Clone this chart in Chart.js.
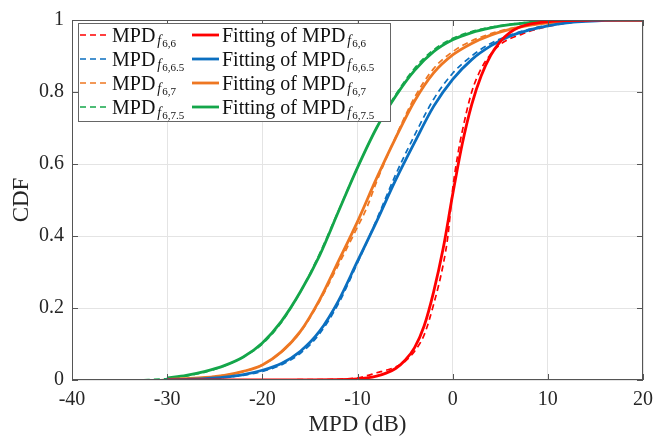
<!DOCTYPE html>
<html>
<head>
<meta charset="utf-8">
<script src="https://cdn.jsdelivr.net/npm/chart.js@4.4.1/dist/chart.umd.min.js"></script>
<style>
  html, body { margin: 0; padding: 0; background: #fff; }
  #wrap { position: relative; width: 668px; height: 439px; }
</style>
</head>
<body>
<div id="wrap"><canvas id="cdf" width="668" height="439"></canvas></div>
<script>
// ---------------------------------------------------------------------------
// Data
// ---------------------------------------------------------------------------

const xTicks = [-40, -30, -20, -10, 0, 10, 20];
const yTicks = [0, 0.2, 0.4, 0.6, 0.8, 1];
const xTickLabels = ['-40', '-30', '-20', '-10', '0', '10', '20'];
const yTickLabels = ['0', '0.2', '0.4', '0.6', '0.8', '1'];

const subscripts = ['6,6', '6,6.5', '6,7', '6,7.5'];
const colors = ['#ff0000', '#0b6fc0', '#ee7722', '#14a64a'];

// empirical MPD curves (dashed)
const xEmpRed    = [-30, -15, -12, -10, -9, -8, -7, -6, -5, -4, -3, -2, -1, -0.5, 0, 0.5, 1, 2, 3, 4, 5, 6, 7, 8, 10, 12, 14, 16, 20];
const empRed     = [0, 0.001, 0.002, 0.006, 0.012, 0.02, 0.027, 0.036, 0.052, 0.08, 0.125, 0.21, 0.32, 0.40, 0.53, 0.62, 0.69, 0.80, 0.865, 0.905, 0.932, 0.948, 0.958, 0.968, 0.982, 0.992, 0.997, 1, 1];
const xEmpBlue   = [-31.5, -30, -28, -26, -24, -22, -20, -18, -16, -14, -12, -10, -8, -6, -4, -2, 0, 2, 4, 6, 8, 10, 12, 14, 16, 20];
const empBlue    = [0, 0.001, 0.002, 0.004, 0.007, 0.013, 0.024, 0.042, 0.074, 0.128, 0.212, 0.325, 0.445, 0.57, 0.68, 0.78, 0.852, 0.90, 0.935, 0.958, 0.974, 0.985, 0.992, 0.997, 1, 1];
const xEmpOrange = [-31, -30, -28, -26, -24, -22, -20, -18, -16, -14, -12, -10, -9, -8, -6, -4, -2, 0, 2, 4, 6, 8, 10, 12, 14, 20];
const empOrange  = [0, 0.002, 0.004, 0.007, 0.013, 0.024, 0.042, 0.077, 0.133, 0.218, 0.32, 0.425, 0.48, 0.55, 0.675, 0.785, 0.865, 0.912, 0.942, 0.962, 0.976, 0.986, 0.993, 0.997, 1, 1];
const xEmpGreen  = [-33.5, -32, -30, -28, -26, -24, -22, -20, -18, -16, -14, -12, -10, -8, -6, -4, -2, 0, 2, 4, 6, 8, 10, 12, 14, 20];
const empGreen   = [0, 0.001, 0.004, 0.011, 0.022, 0.039, 0.064, 0.10, 0.16, 0.245, 0.35, 0.47, 0.59, 0.70, 0.792, 0.866, 0.917, 0.949, 0.968, 0.98, 0.988, 0.994, 0.997, 0.999, 1, 1];

// fitted curves (solid)
const xFit       = [-30, -28, -26, -24, -22, -20, -18, -16, -14, -12, -10, -8, -6, -4, -2, 0, 2, 4, 6, 8, 10, 12, 14, 16, 18, 20];
const fitBlue    = [0.001, 0.002, 0.004, 0.008, 0.015, 0.027, 0.046, 0.08, 0.135, 0.22, 0.33, 0.44, 0.555, 0.66, 0.76, 0.835, 0.89, 0.928, 0.955, 0.972, 0.984, 0.992, 0.996, 0.999, 1, 1];
const fitOrange  = [0.002, 0.004, 0.007, 0.013, 0.024, 0.042, 0.078, 0.135, 0.222, 0.33, 0.44, 0.56, 0.672, 0.775, 0.853, 0.903, 0.935, 0.958, 0.974, 0.985, 0.992, 0.996, 0.999, 1, 1, 1];
const fitGreen   = [0.006, 0.013, 0.024, 0.040, 0.064, 0.103, 0.163, 0.245, 0.345, 0.468, 0.59, 0.70, 0.788, 0.86, 0.912, 0.945, 0.965, 0.978, 0.987, 0.993, 0.996, 0.998, 0.9995, 1, 1, 1];
const xFitRed    = [-30, -20, -16, -12, -10, -9, -8, -7, -6, -5, -4, -3, -2, -1, 0, 1, 2, 3, 4, 5, 6, 7, 8, 10, 12, 14, 16, 20];
const fitRed     = [0, 0, 0.0005, 0.001, 0.003, 0.006, 0.011, 0.019, 0.032, 0.055, 0.09, 0.15, 0.245, 0.365, 0.515, 0.655, 0.765, 0.845, 0.902, 0.94, 0.965, 0.98, 0.988, 0.995, 0.998, 0.999, 1, 1];

// ---------------------------------------------------------------------------
// Datasets
// ---------------------------------------------------------------------------

const pts = (xs, ys) => xs.map((x, i) => ({ x, y: ys[i] }));

const empSeries = [pts(xEmpRed, empRed), pts(xEmpBlue, empBlue), pts(xEmpOrange, empOrange), pts(xEmpGreen, empGreen)];
const fitSeries = [pts(xFitRed, fitRed), pts(xFit, fitBlue), pts(xFit, fitOrange), pts(xFit, fitGreen)];

const datasets = [
  ...empSeries.map((data, i) => ({
    label: 'MPD',
    sub: subscripts[i],
    data,
    borderColor: colors[i],
    borderWidth: 1.7,
    borderDash: [6, 4],
    order: 1,
  })),
  ...fitSeries.map((data, i) => ({
    label: 'Fitting of MPD',
    sub: subscripts[i],
    data,
    borderColor: colors[i],
    borderWidth: 2.8,
    order: 0,
  })),
];

// ---------------------------------------------------------------------------
// Frame, inward ticks and legend (MATLAB look)
// ---------------------------------------------------------------------------

const SERIF = '"Liberation Serif", "Times New Roman", serif';

const frameAndLegend = {
  id: 'frameAndLegend',
  afterDatasetsDraw(chart) {
    const { ctx, chartArea: a, scales: { x, y } } = chart;
    ctx.save();

    // box + inward ticks
    ctx.strokeStyle = '#555';
    ctx.lineWidth = 1;
    ctx.setLineDash([]);
    ctx.strokeRect(a.left + 0.5, a.top + 0.5, a.right - a.left - 1, a.bottom - a.top - 1);
    ctx.beginPath();
    xTicks.forEach(v => {
      const px = Math.round(x.getPixelForValue(v)) + 0.5;
      ctx.moveTo(px, a.bottom); ctx.lineTo(px, a.bottom - 6);
      ctx.moveTo(px, a.top);    ctx.lineTo(px, a.top + 6);
    });
    yTicks.forEach(v => {
      const py = Math.round(y.getPixelForValue(v)) + 0.5;
      ctx.moveTo(a.left, py);  ctx.lineTo(a.left + 6, py);
      ctx.moveTo(a.right, py); ctx.lineTo(a.right - 6, py);
    });
    ctx.stroke();

    // legend box
    const bx = 78.5, by = 23.5, bw = 312, bh = 98;
    ctx.fillStyle = '#fff';
    ctx.fillRect(bx, by, bw, bh);
    ctx.strokeStyle = '#666';
    ctx.strokeRect(bx, by, bw, bh);

    const cols = [{ x0: 80, x1: 108, tx: 112 }, { x0: 192, x1: 219, tx: 222 }];
    chart.data.datasets.forEach((ds, i) => {
      const col = cols[i < 4 ? 0 : 1];
      const cy = 35 + (i % 4) * 24;

      ctx.strokeStyle = ds.borderColor;
      ctx.lineWidth = ds.borderWidth;
      ctx.setLineDash(ds.borderDash || []);
      ctx.beginPath();
      ctx.moveTo(col.x0, cy); ctx.lineTo(col.x1, cy);
      ctx.stroke();
      ctx.setLineDash([]);

      ctx.fillStyle = '#111';
      ctx.textBaseline = 'alphabetic';
      ctx.textAlign = 'left';
      ctx.font = `20px ${SERIF}`;
      ctx.fillText(ds.label, col.tx, cy + 7);
      let tx = col.tx + ctx.measureText(ds.label).width + 2;
      ctx.font = `italic 14px ${SERIF}`;
      ctx.fillText('f', tx, cy + 10);
      tx += ctx.measureText('f').width + 1;
      ctx.font = `11px ${SERIF}`;
      ctx.fillText(ds.sub, tx, cy + 12);
    });

    ctx.restore();
  },
};

// ---------------------------------------------------------------------------
// Chart
// ---------------------------------------------------------------------------

new Chart(document.getElementById('cdf'), {
  type: 'line',
  data: { datasets },
  options: {
    responsive: false,
    animation: false,
    devicePixelRatio: 1,
    layout: { padding: { top: 15, right: 25, left: 0, bottom: 0 } },
    elements: {
      point: { radius: 0 },
      line: { cubicInterpolationMode: 'monotone', fill: false },
    },
    plugins: { legend: { display: false }, tooltip: { enabled: false } },
    scales: {
      x: {
        type: 'linear',
        min: -40,
        max: 20,
        afterBuildTicks: s => { s.ticks = xTicks.map(value => ({ value })); },
        afterFit: s => { s.height = 59; },
        ticks: {
          callback: (v) => xTickLabels[xTicks.indexOf(v)],
          font: { family: SERIF, size: 20 },
          color: '#262626',
          padding: 8,
          maxRotation: 0,
        },
        grid: { color: '#e4e4e4', drawTicks: false },
        border: { display: false },
        title: {
          display: true,
          text: 'MPD (dB)',
          font: { family: SERIF, size: 23 },
          color: '#262626',
          padding: { top: 0, bottom: 0 },
        },
      },
      y: {
        min: 0,
        max: 1,
        afterBuildTicks: s => { s.ticks = yTicks.map(value => ({ value })); },
        afterFit: s => { s.width = 72; },
        ticks: {
          callback: (v) => yTickLabels[yTicks.indexOf(v)],
          font: { family: SERIF, size: 20 },
          color: '#262626',
          padding: 8,
        },
        grid: { color: '#e4e4e4', drawTicks: false },
        border: { display: false },
        title: {
          display: true,
          text: 'CDF',
          font: { family: SERIF, size: 23 },
          color: '#262626',
          padding: { top: 8, bottom: 0 },
        },
      },
    },
  },
  plugins: [frameAndLegend],
});
</script>
</body>
</html>
